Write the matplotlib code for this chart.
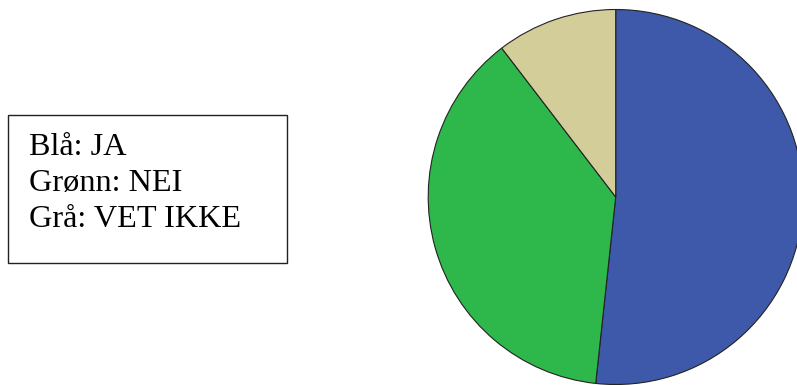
import matplotlib
matplotlib.use("Agg")
import matplotlib.pyplot as plt
from matplotlib.patches import Rectangle

# answer shares (percent)
labels = ["JA", "NEI", "VET IKKE"]
shares = [51.7, 37.9, 10.4]
colors = ["#3e59a9", "#2eb84b", "#d3cd99"]
legend_lines = ["Blå: JA", "Grønn: NEI", "Grå: VET IKKE"]

W, H = 797, 385
fig = plt.figure(figsize=(W / 100, H / 100), dpi=100)
ax = fig.add_axes([0, 0, 1, 1])

# pie, clockwise from 12 o'clock
ax.pie(shares, colors=colors, startangle=90, counterclock=False,
       center=(615.7, H - 197), radius=187.5,
       wedgeprops=dict(edgecolor="#222222", linewidth=0.8))

ax.set_xlim(0, W)
ax.set_ylim(0, H)
ax.set_aspect("equal")
ax.axis("off")

# text box on the left
ax.add_patch(Rectangle((8.5, H - 263), 279, 148, fill=False,
                       edgecolor="#222222", linewidth=1.0))
ax.text(29, H - 133, "\n".join(legend_lines), va="top", ha="left",
        fontfamily="Liberation Serif", fontsize=23.2, linespacing=1.31,
        color="black")

fig.savefig("out.png", dpi=100)
